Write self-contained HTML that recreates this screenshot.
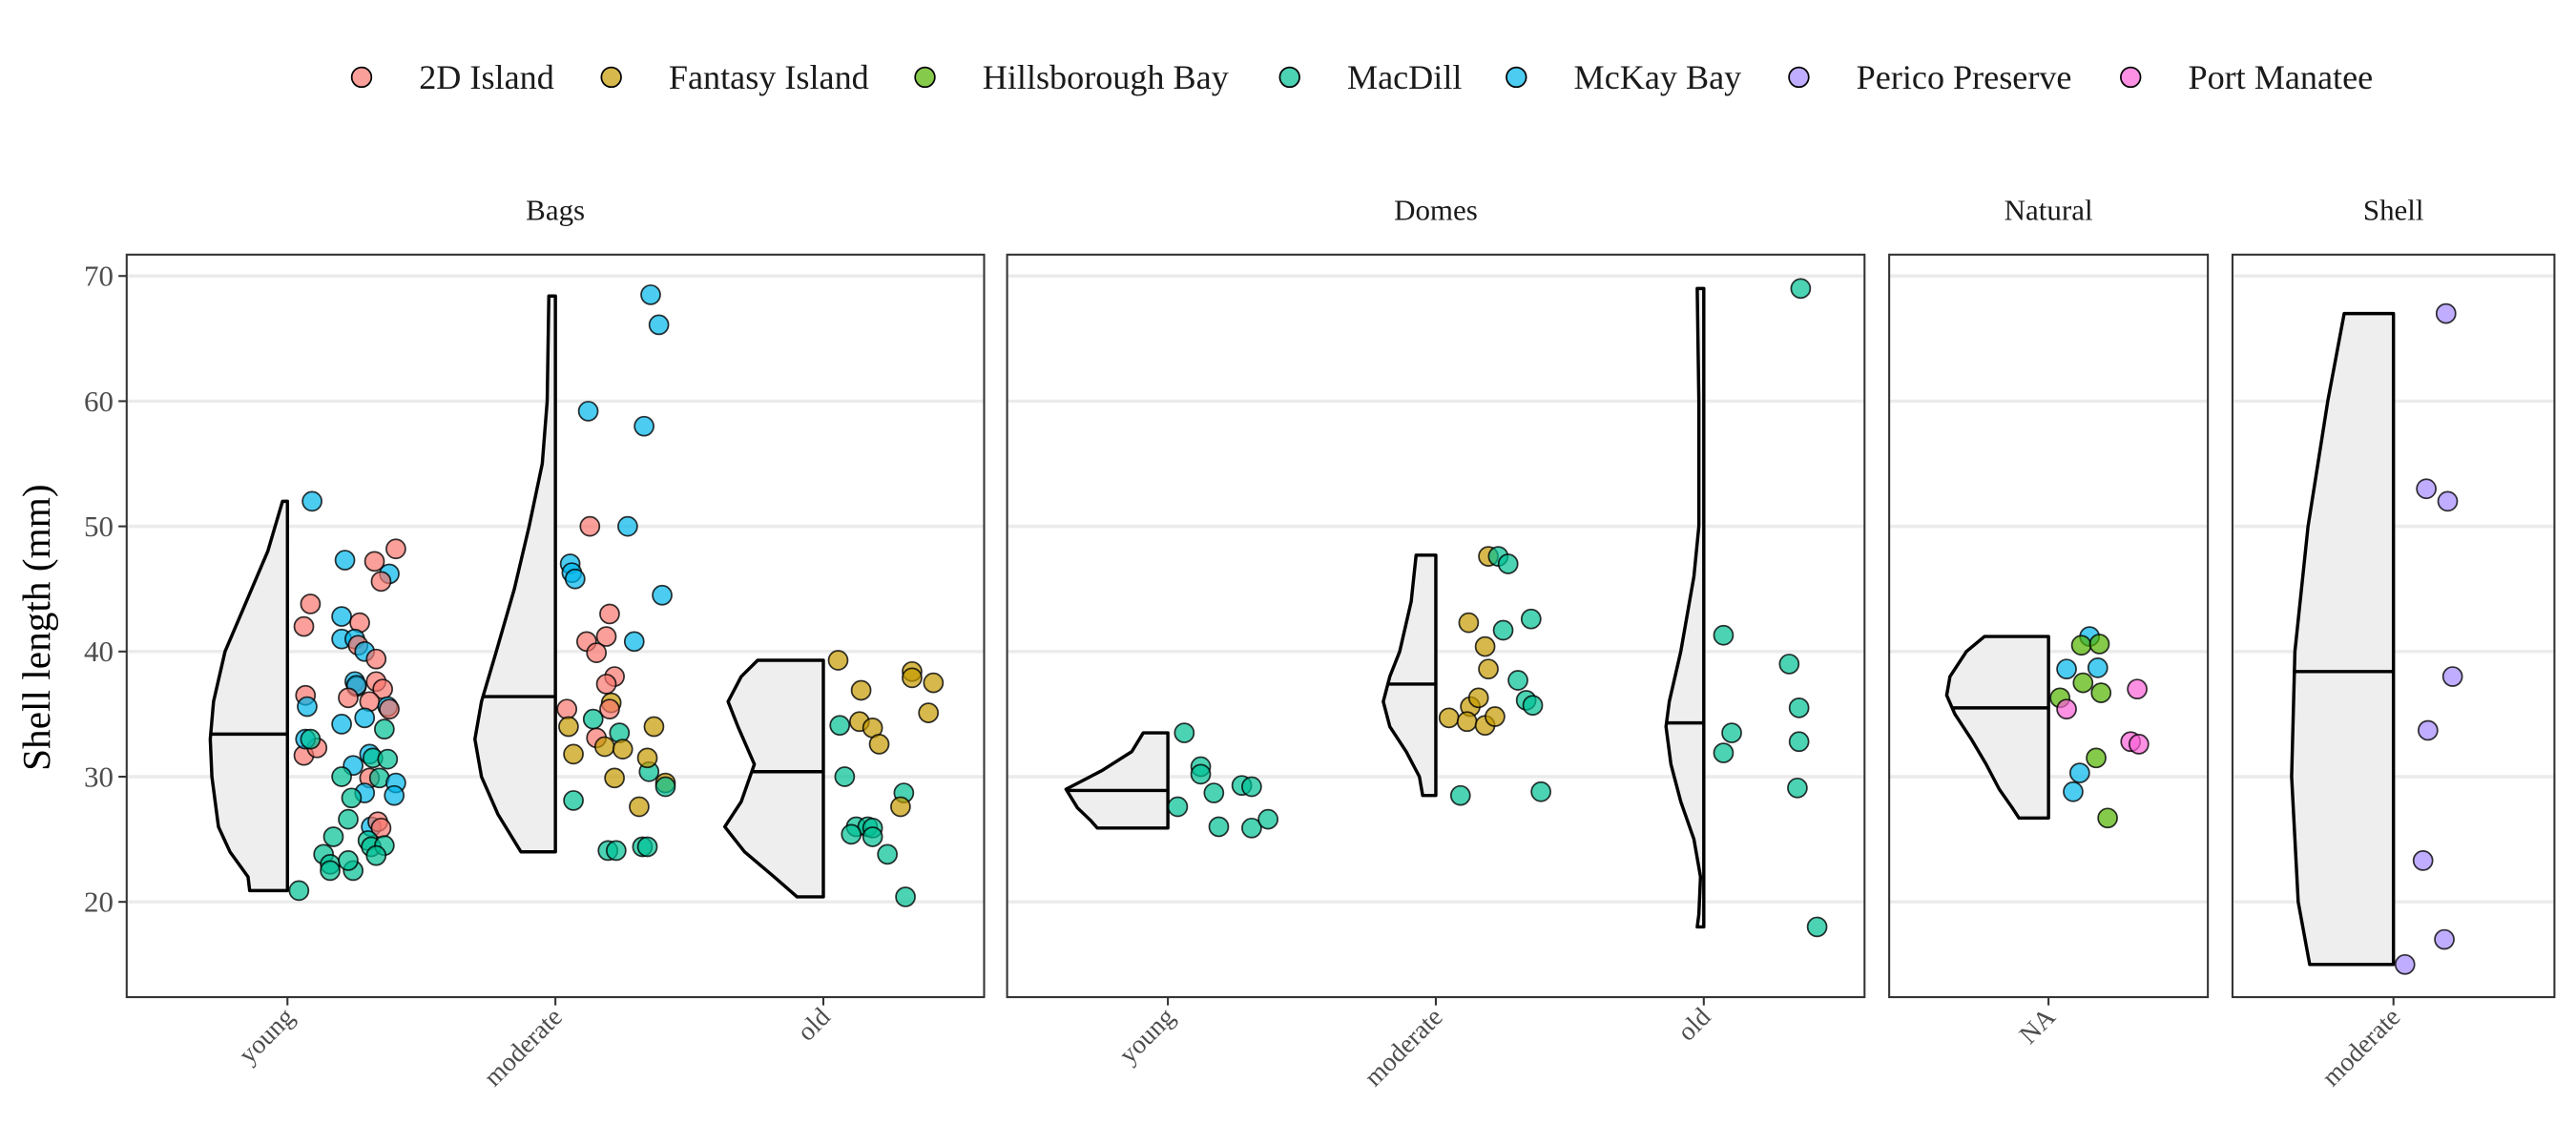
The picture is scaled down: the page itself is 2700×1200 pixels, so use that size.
<!DOCTYPE html>
<html><head><meta charset="utf-8"><style>
html,body{margin:0;padding:0;background:#fff;}
svg{display:block;font-family:"Liberation Serif",serif;}
</style></head><body>
<svg id="chart" width="2700" height="1200" viewBox="0 0 1568 697" xmlns="http://www.w3.org/2000/svg"></svg>
<script>
// ---- data ----
const sites = ["2D Island","Fantasy Island","Hillsborough Bay","MacDill","McKay Bay","Perico Preserve","Port Manatee"];
const siteColors = ["#F8766D","#C49A00","#53B400","#00C094","#00B6EB","#A58AFF","#FB61D7"];
const facets = ["Bags","Domes","Natural","Shell"];
const facetCats = [["young","moderate","old"],["young","moderate","old"],["NA"],["moderate"]];
const yTicks = [20,30,40,50,60,70];
const medians = [[33.4,36.4,30.4],[28.9,37.4,34.3],[35.5],[38.4]];
// violin density profiles: [value, relative half-width]
const violins = [
 [
  [[52,3],[48,12],[44,25],[40,38],[36,45],[33,47],[30,46],[26,42],[24,35],[22,24],[20.9,23]],
  [[68.4,4],[60,5],[55,8],[50,16],[45,25],[40,36],[36,45],[33,49],[30,45],[27,35],[24,21]],
  [[39.3,40],[38,50],[36,58],[34,52],[31,42],[28,50],[26,60],[24,48],[22,30],[20.4,16]]
 ],
 [
  [[33.5,15],[32,22],[30.5,40],[29,62],[27.5,55],[26.5,47],[25.9,43]],
  [[47.7,12],[44,15],[40,22],[38,28],[36,32],[34,28],[32,18],[30,10],[28.5,8]],
  [[69,4],[60,3],[50,3],[46,6],[40,14],[36,21],[34,23],[31,20],[28,14],[25,6],[22,2],[19,3],[18,4]]
 ],
 [
  [[41.2,39],[40,50],[38,60],[36.5,62],[35,57],[33,47],[31,38],[29,30],[27.5,22],[26.7,18]]
 ],
 [
  [[67,30],[60,40],[50,52],[40,60],[30,62],[20,58],[15,51]]
 ]
];
// points: [facet, category, site, value, jitter]
const points = [
 [0,0,4,52.0,15],[0,0,0,43.8,14],[0,0,0,42.0,10],[0,0,0,36.5,11],[0,0,4,35.6,12],[0,0,0,31.7,10],[0,0,0,32.3,18],[0,0,4,33.0,11],[0,0,3,33.0,14],[0,0,3,20.9,7],
 [0,0,4,47.3,35],[0,0,0,47.2,53],[0,0,0,48.2,66],[0,0,4,46.2,62],[0,0,0,45.6,57],
 [0,0,4,42.8,33],[0,0,0,42.3,44],[0,0,4,41.0,33],[0,0,4,41.0,41],[0,0,0,40.5,43],[0,0,4,40.0,47],[0,0,0,39.4,54],
 [0,0,4,37.6,41],[0,0,0,37.2,42],[0,0,0,37.6,54],[0,0,0,37.0,58],[0,0,4,37.3,42],
 [0,0,0,36.3,37],[0,0,0,36.0,50],[0,0,4,35.6,61],[0,0,0,35.4,62],
 [0,0,4,34.2,33],[0,0,4,34.7,47],[0,0,3,33.8,59],
 [0,0,4,31.8,50],[0,0,3,31.5,52],[0,0,3,31.4,61],[0,0,4,30.9,40],
 [0,0,3,30.0,33],[0,0,0,29.9,50],[0,0,3,29.9,56],[0,0,4,29.5,66],[0,0,4,28.5,65],[0,0,4,28.7,47],[0,0,3,28.3,39],
 [0,0,3,26.6,37],[0,0,4,26.0,51],[0,0,0,26.4,55],[0,0,0,25.9,57],
 [0,0,3,25.2,28],[0,0,3,24.9,49],[0,0,3,24.4,51],[0,0,3,24.5,59],[0,0,3,23.7,54],
 [0,0,3,23.8,22],[0,0,3,23.0,26],[0,0,3,22.5,26],[0,0,3,22.5,40],[0,0,3,23.3,37],
 [0,1,4,68.5,58],[0,1,4,66.1,63],[0,1,4,59.2,20],[0,1,4,58.0,54],[0,1,0,50.0,21],[0,1,4,50.0,44],[0,1,4,47.0,9],[0,1,4,46.3,10],[0,1,4,45.8,12],[0,1,4,44.5,65],
 [0,1,0,43.0,33],[0,1,0,40.8,19],[0,1,0,41.2,31],[0,1,0,39.9,25],[0,1,4,40.8,48],[0,1,0,38.0,36],[0,1,0,37.4,31],[0,1,1,35.9,34],[0,1,0,35.4,33],[0,1,0,35.4,7],[0,1,3,34.6,23],
 [0,1,1,34.0,8],[0,1,1,34.0,60],[0,1,0,33.1,25],[0,1,3,33.5,39],[0,1,1,32.4,30],[0,1,1,32.2,41],[0,1,1,31.8,11],[0,1,3,30.4,57],[0,1,1,31.5,56],[0,1,1,29.5,67],[0,1,3,29.2,67],[0,1,1,29.9,36],[0,1,1,27.6,51],[0,1,3,28.1,11],[0,1,3,24.1,32],[0,1,3,24.1,37],[0,1,3,24.4,53],[0,1,3,24.4,56],
 [0,2,1,39.3,9],[0,2,1,36.9,23],[0,2,1,38.4,54],[0,2,1,37.9,54],[0,2,1,37.5,67],[0,2,1,35.1,64],[0,2,3,34.1,10],[0,2,1,34.4,22],[0,2,1,33.9,30],[0,2,1,32.6,34],[0,2,3,30.0,13],[0,2,3,28.7,49],[0,2,1,27.6,47],[0,2,3,26.0,20],[0,2,3,26.0,27],[0,2,3,25.9,30],[0,2,3,25.4,17],[0,2,3,25.2,30],[0,2,3,23.8,39],[0,2,3,20.4,50],
 [1,0,3,33.5,10],[1,0,3,30.8,20],[1,0,3,30.2,20],[1,0,3,28.7,28],[1,0,3,29.3,45],[1,0,3,29.2,51],[1,0,3,27.6,6],[1,0,3,26.0,31],[1,0,3,25.9,51],[1,0,3,26.6,61],
 [1,1,1,47.6,32],[1,1,3,47.6,38],[1,1,3,47.0,44],[1,1,1,42.3,20],[1,1,3,41.7,41],[1,1,3,42.6,58],[1,1,1,40.4,30],[1,1,1,38.6,32],[1,1,3,37.7,50],[1,1,3,36.1,55],[1,1,3,35.7,59],[1,1,1,35.6,21],[1,1,1,36.3,26],[1,1,1,34.7,8],[1,1,1,34.4,19],[1,1,1,34.1,30],[1,1,1,34.8,36],[1,1,3,28.5,15],[1,1,3,28.8,64],
 [1,2,3,69.0,59],[1,2,3,41.3,12],[1,2,3,39.0,52],[1,2,3,33.5,17],[1,2,3,31.9,12],[1,2,3,35.5,58],[1,2,3,32.8,58],[1,2,3,29.1,57],[1,2,3,18.0,69],
 [2,0,4,41.2,25],[2,0,2,40.5,20],[2,0,2,40.6,31],[2,0,4,38.6,11],[2,0,4,38.7,30],[2,0,2,37.5,21],[2,0,2,36.7,32],[2,0,2,36.3,7],[2,0,6,37.0,54],[2,0,6,35.4,11],[2,0,6,32.8,50],[2,0,6,32.6,55],[2,0,2,31.5,29],[2,0,4,30.3,19],[2,0,4,28.8,15],[2,0,2,26.7,36],
 [3,0,5,67.0,32],[3,0,5,53.0,20],[3,0,5,52.0,33],[3,0,5,38.0,36],[3,0,5,33.7,21],[3,0,5,23.3,18],[3,0,5,17.0,31],[3,0,5,15.0,7]
];
// ---- layout ----
const svg = document.getElementById('chart');
const NS = "http://www.w3.org/2000/svg";
const panelX = [[77,599],[613,1135],[1150,1344],[1359,1555]];
const panelTop = 155, panelBot = 607;
function yScale(v){ return 168 + (70 - v) * (549 - 168) / 50; }
function xScale(f, c){ const [a,b] = panelX[f]; const n = facetCats[f].length; return a + (b - a) * (c + 0.6) / (n - 1 + 1.2); }
function mk(tag, attrs, parent){ const e = document.createElementNS(NS, tag); for (const k in attrs) e.setAttribute(k, attrs[k]); (parent||svg).appendChild(e); return e; }

// legend
const legX = [220,372,563,785,923,1095,1297];
sites.forEach((s,i)=>{
  const g = mk('g',{});
  
  
  mk('circle',{cx:legX[i],cy:47,r:6,fill:siteColors[i],'fill-opacity':0.7,stroke:'#000','stroke-width':1},g);
  const t = mk('text',{x:legX[i]+35,y:54,'font-size':21,fill:'#1a1a1a'},g);
  t.textContent = s;
});

// panels
facets.forEach((f,fi)=>{
  const [a,b] = panelX[fi];
  const g = mk('g',{});
  
  
  const st = mk('text',{x:(a+b)/2,y:134,'font-size':18,'text-anchor':'middle',fill:'#1a1a1a'},g);
  
  
  st.textContent = f;
  yTicks.forEach(v=>{
    const gl = mk('line',{x1:a,x2:b,y1:yScale(v),y2:yScale(v),stroke:'#EBEBEB','stroke-width':2},g);
    
    
  });
  violins[fi].forEach((prof,ci)=>{
    const cx = xScale(fi,ci);
    let d = `M${cx},${yScale(prof[0][0])}`;
    prof.forEach(p=>{ d += ` L${cx-p[1]},${yScale(p[0])}`; });
    d += ` L${cx},${yScale(prof[prof.length-1][0])} Z`;
    const vp = mk('path',{d:d,fill:'#EEEEEE',stroke:'#000','stroke-width':2,'stroke-linejoin':'round'},g);
    
    
    const m = medians[fi][ci];
    let w = 0;
    for (let k=0;k<prof.length-1;k++){ const [v1,w1]=prof[k],[v2,w2]=prof[k+1]; if (m<=v1 && m>=v2){ w = w1 + (w2-w1)*(v1-m)/(v1-v2); } }
    const ml = mk('line',{x1:cx-w,x2:cx,y1:yScale(m),y2:yScale(m),stroke:'#000','stroke-width':2},g);
    
    
    mk('line',{x1:cx,x2:cx,y1:panelBot,y2:panelBot+5,stroke:'#333','stroke-width':1.2},g);
    const tl = mk('text',{x:0,y:0,'font-size':16,'text-anchor':'end',fill:'#4d4d4d',transform:`translate(${cx+5},${panelBot+13}) rotate(-45)`},g);
    
    
    tl.textContent = facetCats[fi][ci];
  });
  const br = mk('rect',{x:a,y:panelTop,width:b-a,height:panelBot-panelTop,fill:'none',stroke:'#333','stroke-width':1.2},g);
  
  
});

// points
points.forEach(p=>{
  const [f,c,s,v,j] = p;
  const cx = xScale(f,c) + j;
  const pt = mk('circle',{cx:cx,cy:yScale(v),r:5.8,fill:siteColors[s],'fill-opacity':0.7,stroke:'#000','stroke-width':1,'stroke-opacity':0.8});
  
  
});

// y axis
yTicks.forEach(v=>{
  mk('line',{x1:72,x2:77,y1:yScale(v),y2:yScale(v),stroke:'#333','stroke-width':1.2});
  const t = mk('text',{x:69,y:yScale(v)+6,'font-size':18,'text-anchor':'end',fill:'#4d4d4d'});
  
  
  t.textContent = v;
});
const yt = mk('text',{x:0,y:0,'font-size':24,'text-anchor':'middle',fill:'#000',transform:'translate(30,382) rotate(-90)'});


yt.textContent = 'Shell length (mm)';
</script>
</body></html>
